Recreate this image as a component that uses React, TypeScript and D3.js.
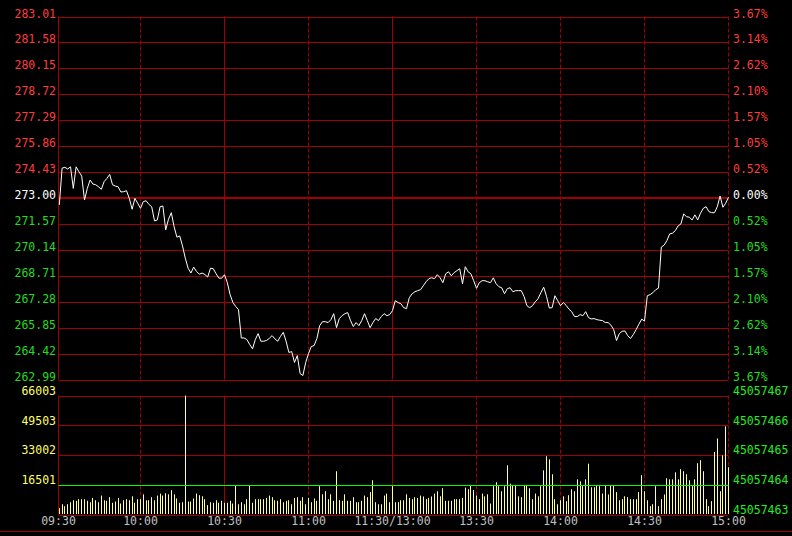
import React from 'react';
import * as d3 from 'd3';

const W = 792;
const H = 536;

const priceTicks = [283.01, 281.58, 280.15, 278.72, 277.29, 275.86, 274.43, 273.0, 271.57, 270.14, 268.71, 267.28, 265.85, 264.42, 262.99];
const pctLabels = ['3.67%', '3.14%', '2.62%', '2.10%', '1.57%', '1.05%', '0.52%', '0.00%', '0.52%', '1.05%', '1.57%', '2.10%', '2.62%', '3.14%', '3.67%'];
const preClose = 273.0;
const volTicks = [66003, 49503, 33002, 16501, 0];
const volLeftLabels = ['66003', '49503', '33002', '16501', ''];
const volRightLabels = ['45057467', '45057466', '45057465', '45057464', '45057463'];
const volAverage = 16501;
const timeLabels = ['09:30', '10:00', '10:30', '11:00', '11:30/13:00', '13:30', '14:00', '14:30', '15:00'];
const timeMinutes = [0, 30, 60, 90, 120, 150, 180, 210, 240];
const solidMinutes = [60, 120];
const dashedMinutes = [30, 90, 150, 180, 210, 240];

// one price per minute, minute 1..240
const prices = [
  272.62, 274.65, 274.69, 274.60, 274.72, 273.53, 274.72, 274.45, 274.21, 272.89,
  273.53, 273.99, 273.77, 273.73, 273.62, 273.48, 273.90, 274.08, 274.30, 273.73,
  273.66, 273.62, 273.33, 273.35, 273.40, 272.98, 272.38, 272.98, 272.71, 272.43,
  272.80, 272.85, 272.65, 272.52, 271.74, 271.79, 272.52, 272.56, 271.24, 271.83,
  272.19, 271.42, 270.84, 270.91, 270.36, 269.68, 269.13, 268.86, 269.19, 268.95,
  268.80, 268.86, 268.78, 268.64, 269.13, 269.10, 268.82, 268.58, 268.58, 268.77,
  268.34, 267.67, 267.24, 267.02, 266.84, 265.28, 265.28, 265.19, 264.92, 264.68,
  265.19, 265.52, 265.10, 265.10, 265.14, 265.26, 265.41, 265.23, 265.10, 265.37,
  265.59, 265.10, 264.48, 264.53, 263.93, 264.31, 263.32, 263.21, 263.93, 264.42,
  264.81, 264.86, 265.25, 265.96, 266.18, 266.18, 266.13, 266.29, 266.62, 265.85,
  266.35, 266.51, 266.62, 266.68, 266.24, 265.91, 266.13, 265.96, 266.24, 266.62,
  266.24, 265.85, 266.13, 266.35, 266.24, 266.46, 266.62, 266.51, 266.57, 266.79,
  267.34, 267.23, 267.17, 266.95, 266.90, 267.50, 267.72, 267.83, 267.89, 267.94,
  268.16, 268.38, 268.55, 268.60, 268.55, 268.77, 268.60, 268.33, 268.82, 268.93,
  268.71, 268.88, 268.99, 269.10, 268.27, 269.21, 268.93, 268.82, 268.44, 268.02,
  268.33, 268.44, 268.44, 268.38, 268.33, 268.60, 268.27, 268.11, 268.05, 267.72,
  268.00, 268.05, 267.83, 267.89, 267.89, 267.89, 267.56, 267.06, 266.95, 267.06,
  267.28, 267.45, 267.78, 268.08, 267.58, 266.93, 266.95, 267.61, 267.34, 267.06,
  267.23, 267.08, 266.87, 266.73, 266.46, 266.46, 266.57, 266.51, 266.73, 266.40,
  266.33, 266.35, 266.29, 266.26, 266.24, 266.13, 266.13, 265.99, 265.74, 265.14,
  265.52, 265.65, 265.67, 265.41, 265.25, 265.47, 265.74, 266.04, 266.32, 266.21,
  267.61, 267.67, 267.78, 267.94, 268.03, 270.29, 270.40, 270.65, 271.02, 271.06,
  271.20, 271.46, 271.57, 272.12, 271.97, 271.94, 271.79, 272.07, 271.79, 272.16,
  272.43, 272.52, 272.25, 272.19, 272.19, 272.52, 273.11, 272.49, 272.71, 273.04,
];

// one volume per minute, minute 1..240
const volumes = [
  3500, 5700, 4600, 5700, 6800, 7900, 7600, 8500, 8500, 8500,
  7600, 6800, 9200, 7900, 6800, 10500, 7900, 7600, 9600, 6500,
  7200, 9200, 6100, 7900, 8500, 7900, 10100, 6500, 8500, 8500,
  11200, 7900, 7900, 9600, 7900, 10500, 11600, 10500, 11800, 11200,
  13500, 11200, 8900, 6500, 6800, 66003, 7200, 7200, 8900, 11600,
  10700, 10100, 8500, 5200, 6800, 6500, 7900, 6500, 7600, 6500,
  6500, 7600, 6100, 16200, 5700, 6800, 5700, 8500, 16200, 6500,
  8500, 8500, 8500, 8500, 9200, 10500, 9600, 7900, 7600, 8500,
  6800, 7600, 7900, 5700, 9200, 9600, 7600, 9600, 5700, 9200,
  6800, 8900, 7600, 15700, 11200, 12900, 8500, 11200, 7600, 24000,
  7900, 7600, 11200, 7600, 7600, 9600, 6800, 6800, 7600, 10500,
  9600, 12400, 19000, 6800, 5700, 5700, 10500, 11600, 6800, 15700,
  6800, 6800, 7900, 7900, 11200, 9200, 8500, 9600, 9200, 10500,
  10000, 8500, 9200, 10000, 11600, 12900, 10100, 14600, 7600, 7600,
  7600, 8500, 8500, 8500, 9200, 14900, 14000, 16400, 13600, 10500,
  8500, 11600, 10100, 11200, 6100, 15700, 17900, 15700, 12900, 15700,
  27300, 17100, 16400, 16400, 10100, 9600, 16400, 16400, 14600, 8500,
  11600, 10100, 15700, 24500, 32300, 30600, 22300, 8500, 5700, 7900,
  10100, 7400, 10700, 14000, 12900, 19500, 18400, 15700, 19500, 28200,
  15100, 15100, 16200, 15700, 11600, 16200, 11100, 16200, 16200, 12400,
  7900, 8500, 10100, 9600, 8500, 8500, 8500, 12400, 21800, 12900,
  7900, 4600, 5700, 15700, 4600, 8500, 11100, 20100, 19500, 19500,
  23400, 19500, 25100, 24000, 22300, 19000, 15700, 19500, 28400, 30100,
  24000, 8500, 4600, 7400, 34700, 42200, 12900, 32800, 48900, 26200,
];

const GRID = '#a00000';
const RED_TXT = '#ff3c3c';
const GREEN_TXT = '#22dd22';
const WHITE = '#ffffff';
const YELLOW_TXT = '#ffff66';
const BAR = '#ffff99';
const VOL_RIGHT = '#22ee22';
const TIME_TXT = '#c0c0c0';
const FONT = '"DejaVu Sans Mono", monospace';

export default function App() {
  const left = 58.5;
  const right = 728.5;
  const x = d3.scaleLinear().domain([0, 240]).range([56.5, 728.5]);
  const yP = d3.scaleLinear().domain([262.99, 283.01]).range([379.5, 16.5]);
  const yV = d3.scaleLinear().domain([0, 66003]).range([514.5, 395.5]);

  const line = d3
    .line<number>()
    .x((_, i) => x(i + 1))
    .y((d) => yP(d));

  const txtColor = (p: number) => (Math.abs(p - preClose) < 1e-6 ? WHITE : p > preClose ? RED_TXT : GREEN_TXT);

  return (
    <div style={{ position: 'absolute', left: 0, top: 0, width: W, height: H, background: '#000' }}>
      <svg width={W} height={H} style={{ display: 'block', background: '#000' }} fontFamily={FONT} fontSize={11.5}>
        <rect x={0} y={0} width={W} height={H} fill="#000" />
        {priceTicks.map((p, k) => (
          <line
            key={'hp' + k}
            x1={left}
            x2={right}
            y1={Math.round(yP(p)) + (p === preClose ? 0 : 0.5)}
            y2={Math.round(yP(p)) + (p === preClose ? 0 : 0.5)}
            stroke={GRID}
            strokeWidth={p === preClose ? 2 : 1}
          />
        ))}
        {volTicks.map((v, k) => (
          <line
            key={'hv' + k}
            x1={left}
            x2={right}
            y1={Math.round(yV(v)) + 0.5}
            y2={Math.round(yV(v)) + 0.5}
            stroke={GRID}
            strokeWidth={1}
          />
        ))}
        <line x1={left} x2={left} y1={yP(283.01)} y2={yP(262.99)} stroke={GRID} />
        <line x1={left} x2={left} y1={yV(66003)} y2={yV(0)} stroke={GRID} />
        {solidMinutes.map((m) => (
          <g key={'s' + m}>
            <line x1={x(m)} x2={x(m)} y1={yP(283.01)} y2={yP(262.99)} stroke={GRID} />
            <line x1={x(m)} x2={x(m)} y1={yV(66003)} y2={yV(0)} stroke={GRID} />
          </g>
        ))}
        {dashedMinutes.map((m) => (
          <g key={'d' + m}>
            <line x1={x(m)} x2={x(m)} y1={yP(283.01)} y2={yP(262.99)} stroke={GRID} strokeDasharray="4,2" />
            <line x1={x(m)} x2={x(m)} y1={yV(66003)} y2={yV(0)} stroke={GRID} strokeDasharray="4,2" />
          </g>
        ))}
        {volumes.map((v, i) => (
          <line
            key={'b' + i}
            x1={Math.floor(x(i + 1)) + 0.5}
            x2={Math.floor(x(i + 1)) + 0.5}
            y1={yV(0) - 0.5}
            y2={yV(v)}
            stroke={BAR}
            strokeWidth={1}
          />
        ))}
        <line
          x1={left}
          x2={right}
          y1={Math.round(yV(volAverage)) + 0.5}
          y2={Math.round(yV(volAverage)) + 0.5}
          stroke="#00ff00"
          strokeWidth={1}
        />
        <path d={line(prices) || ''} fill="none" stroke="#ffffff" strokeWidth={1} />
        {priceTicks.map((p, k) => (
          <text key={'lp' + k} x={56} y={Math.round(yP(p)) + 1} textAnchor="end" fill={txtColor(p)}>
            {p.toFixed(2)}
          </text>
        ))}
        {pctLabels.map((s, k) => (
          <text key={'rp' + k} x={733} y={Math.round(yP(priceTicks[k])) + 1} textAnchor="start" fill={txtColor(priceTicks[k])}>
            {s}
          </text>
        ))}
        {volTicks.map((v, k) => (
          <g key={'lv' + k}>
            <text x={56} y={Math.floor(yV(v))} textAnchor="end" fill={YELLOW_TXT}>
              {volLeftLabels[k]}
            </text>
            <text x={733} y={Math.floor(yV(v))} textAnchor="start" fill={VOL_RIGHT}>
              {volRightLabels[k]}
            </text>
          </g>
        ))}
        {timeMinutes.map((m, k) => (
          <text key={'t' + k} x={m === 0 ? left : x(m)} y={525} textAnchor="middle" fill={TIME_TXT}>
            {timeLabels[k]}
          </text>
        ))}
        <line x1={0} x2={W} y1={531.5} y2={531.5} stroke={GRID} />
      </svg>
    </div>
  );
}
